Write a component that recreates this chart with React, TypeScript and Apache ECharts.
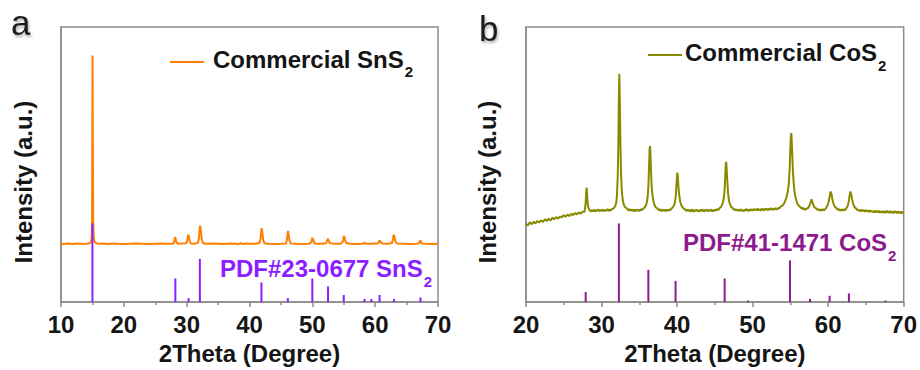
import { useEffect, useRef } from 'react';
import * as echarts from 'echarts';

// ---- Commercial SnS2 scan: [2θ (deg), intensity (a.u.)] ----
const SNS2_SCAN: [number, number][] = [
  [10.0, 212], [10.5, 211], [11.0, 213], [11.5, 212], [12.0, 211], [12.5, 213], [13.0, 212],
  [13.5, 211], [14.0, 212], [14.4, 213], [14.7, 216], [14.85, 225], [14.93, 262], [14.97, 486],
  [15.02, 896], [15.07, 600], [15.12, 300], [15.2, 236], [15.35, 220], [15.6, 214], [16.0, 212],
  [16.5, 213], [17.0, 212], [17.5, 211], [18.0, 212], [18.5, 213], [19.0, 212], [20.0, 211],
  [21.0, 212], [22.0, 213], [23.0, 212], [24.0, 211], [25.0, 212], [26.0, 213], [27.0, 212],
  [27.8, 212], [28.0, 218], [28.15, 236], [28.25, 230], [28.4, 216], [28.6, 212], [29.2, 213],
  [29.9, 214], [30.1, 224], [30.25, 245], [30.35, 240], [30.5, 220], [30.7, 213], [31.3, 212],
  [31.8, 216], [31.95, 232], [32.08, 270], [32.15, 278], [32.25, 262], [32.4, 228], [32.6, 215],
  [33.0, 212], [34.0, 213], [35.0, 212], [36.0, 211], [37.0, 213], [37.8, 212], [38.2, 210],
  [38.6, 214], [39.0, 211], [39.4, 213], [40.0, 212], [41.0, 212], [41.6, 215], [41.75, 230],
  [41.88, 262], [41.95, 268], [42.05, 250], [42.2, 224], [42.4, 214], [43.0, 212], [44.0, 211],
  [45.0, 212], [45.8, 213], [45.95, 225], [46.08, 252], [46.15, 258], [46.25, 240], [46.4, 220],
  [46.6, 213], [47.5, 212], [48.5, 211], [49.5, 212], [49.85, 218], [50.0, 234], [50.12, 228],
  [50.3, 215], [50.6, 212], [51.5, 212], [52.2, 214], [52.4, 226], [52.5, 230], [52.6, 224],
  [52.8, 214], [53.5, 212], [54.5, 212], [54.85, 219], [55.0, 238], [55.08, 240], [55.2, 226],
  [55.4, 215], [56.0, 212], [57.0, 211], [58.0, 212], [58.3, 216], [58.5, 212], [59.5, 212],
  [60.5, 214], [60.7, 224], [60.85, 220], [61.1, 213], [62.0, 212], [62.7, 215], [62.85, 232],
  [62.95, 245], [63.05, 240], [63.2, 222], [63.45, 213], [64.5, 212], [65.5, 211], [66.5, 212],
  [67.0, 214], [67.15, 224], [67.25, 222], [67.45, 213], [68.0, 212], [69.0, 211], [70.0, 212],
];

// ---- PDF#23-0677 SnS2 reference lines ----
const SNS2_REF_POS = [15.0, 28.2, 30.3, 32.1, 41.9, 46.1, 50.0, 52.5, 55.0, 58.3, 59.4, 60.7, 63.0, 67.2];
const SNS2_REF_REL = [100, 30, 5, 55, 25, 5, 30, 20, 9, 4, 4, 9, 4, 6];

// ---- Commercial CoS2 scan: [2θ (deg), intensity (a.u.)] ----
const COS2_SCAN: [number, number][] = [
  [20.0, 284], [20.25, 279], [20.5, 290], [20.75, 283], [21.0, 292], [21.25, 286], [21.5, 295],
  [21.75, 289], [22.0, 297], [22.25, 291], [22.5, 301], [22.75, 295], [23.0, 303], [23.25, 297],
  [23.5, 307], [23.75, 301], [24.0, 309], [24.25, 303], [24.5, 312], [24.75, 308], [25.0, 316],
  [25.25, 310], [25.5, 318], [25.75, 313], [26.0, 321], [26.25, 316], [26.5, 324], [26.75, 319],
  [27.0, 326], [27.25, 322], [27.5, 329], [27.7, 327],
  [27.8, 336], [27.9, 362], [27.96, 395], [28.02, 416], [28.08, 397], [28.15, 362], [28.25, 343],
  [28.4, 336], [28.55, 329], [28.7, 334], [28.85, 330], [29.0, 336], [29.15, 329], [29.3, 335],
  [29.45, 331], [29.6, 337], [29.75, 330], [29.9, 335], [30.05, 331], [30.2, 337], [30.35, 330],
  [30.5, 335], [30.65, 332], [30.8, 338], [30.95, 331], [31.1, 336], [31.25, 333], [31.4, 339],
  [31.6, 341],
  [31.8, 348], [31.95, 362], [32.05, 392], [32.15, 460], [32.22, 560], [32.28, 720], [32.35, 830],
  [32.42, 735], [32.5, 580], [32.58, 470], [32.68, 405], [32.8, 372], [32.95, 354], [33.15, 344],
  [33.4, 340], [33.55, 333], [33.7, 338], [33.85, 332], [34.0, 337], [34.15, 331], [34.3, 336],
  [34.45, 330], [34.6, 337], [34.75, 332], [34.9, 336], [35.05, 331], [35.2, 338], [35.35, 334],
  [35.5, 340], [35.65, 342], [35.85, 350],
  [36.0, 362], [36.12, 385], [36.22, 430], [36.3, 500], [36.36, 555], [36.42, 567], [36.48, 540],
  [36.56, 470], [36.65, 415], [36.78, 380], [36.95, 358], [37.15, 345],
  [37.4, 340], [37.55, 334], [37.7, 338], [37.85, 331], [38.0, 336], [38.15, 331], [38.3, 337],
  [38.45, 330], [38.6, 336], [38.75, 332], [38.9, 337], [39.05, 333], [39.2, 339], [39.4, 343],
  [39.6, 352],
  [39.75, 368], [39.85, 392], [39.93, 430], [40.0, 462], [40.04, 471], [40.1, 455], [40.18, 420],
  [40.28, 390], [40.42, 365], [40.6, 350], [40.85, 341],
  [41.1, 336], [41.225, 331], [41.35, 337], [41.475, 330], [41.6, 336], [41.725, 332], [41.85, 329],
  [41.975, 337], [42.1, 333], [42.225, 328], [42.35, 335], [42.475, 331], [42.6, 337], [42.725, 330],
  [42.85, 334], [42.975, 328], [43.1, 336], [43.225, 331], [43.35, 337], [43.475, 332], [43.6, 329],
  [43.725, 336], [43.85, 331], [43.975, 337], [44.1, 330], [44.225, 335], [44.35, 331], [44.475, 337],
  [44.6, 333], [44.725, 329], [44.85, 336], [44.975, 331], [45.1, 337], [45.225, 333], [45.35, 338],
  [45.475, 335], [45.6, 341], [45.85, 347], [46.05, 360],
  [46.2, 380], [46.3, 410], [46.38, 460], [46.44, 498], [46.5, 510], [46.56, 490], [46.64, 445],
  [46.74, 400], [46.86, 372], [47.0, 356], [47.2, 345],
  [47.45, 339], [47.575, 334], [47.7, 338], [47.825, 332], [47.95, 337], [48.075, 331], [48.2, 336],
  [48.325, 332], [48.45, 338], [48.575, 331], [48.7, 335], [48.825, 330], [48.95, 337], [49.075, 333],
  [49.2, 339], [49.325, 332], [49.45, 336], [49.575, 331], [49.7, 338], [49.825, 334], [49.95, 337],
  [50.075, 332], [50.2, 339], [50.325, 334], [50.45, 338], [50.575, 333], [50.7, 340], [50.825, 334],
  [50.95, 337], [51.075, 332], [51.2, 340], [51.325, 335], [51.45, 338], [51.575, 333], [51.7, 341],
  [51.825, 336], [51.95, 339], [52.075, 334], [52.2, 340], [52.325, 336], [52.45, 342], [52.575, 335],
  [52.7, 339], [52.825, 336], [52.95, 342], [53.075, 337], [53.2, 340], [53.325, 338], [53.45, 343],
  [53.575, 341], [53.7, 347], [53.95, 351], [54.2, 360], [54.45, 378],
  [54.65, 400], [54.8, 432], [54.92, 490], [55.0, 560], [55.06, 600], [55.12, 614], [55.18, 590],
  [55.26, 530], [55.36, 465], [55.48, 420], [55.62, 388], [55.8, 368], [56.0, 354],
  [56.25, 347], [56.4, 341], [56.55, 344], [56.7, 337], [56.85, 341], [57.0, 335], [57.15, 340],
  [57.3, 341], [57.45, 346], [57.6, 356],
  [57.72, 366], [57.8, 374], [57.9, 366], [58.02, 354], [58.2, 344],
  [58.45, 340], [58.6, 335], [58.75, 338], [58.9, 332], [59.05, 337], [59.2, 333], [59.35, 338],
  [59.5, 334], [59.7, 341], [59.9, 350], [60.05, 362],
  [60.18, 380], [60.28, 396], [60.35, 402], [60.44, 394], [60.55, 376], [60.7, 358], [60.9, 346],
  [61.15, 340], [61.3, 335], [61.45, 338], [61.6, 332], [61.75, 337], [61.9, 333], [62.05, 338],
  [62.2, 334], [62.4, 340], [62.6, 350],
  [62.75, 368], [62.85, 388], [62.95, 402], [63.04, 395], [63.15, 377], [63.3, 358], [63.5, 345],
  [63.75, 339], [63.875, 334], [64.0, 337], [64.125, 331], [64.25, 335], [64.375, 329], [64.5, 336],
  [64.625, 331], [64.75, 334], [64.875, 328], [65.0, 335], [65.125, 330], [65.25, 333], [65.375, 327],
  [65.5, 334], [65.625, 329], [65.75, 332], [65.875, 327], [66.0, 331], [66.125, 325], [66.25, 333],
  [66.375, 327], [66.5, 331], [66.625, 326], [66.75, 332], [66.875, 325], [67.0, 330], [67.125, 326],
  [67.25, 331], [67.375, 324], [67.5, 330], [67.625, 325], [67.75, 332], [67.875, 326], [68.0, 329],
  [68.125, 324], [68.25, 331], [68.375, 325], [68.5, 328], [68.625, 323], [68.75, 331], [68.875, 326],
  [69.0, 329], [69.125, 323], [69.25, 330], [69.375, 325], [69.5, 328], [69.625, 322], [69.75, 329],
  [69.875, 324], [70.0, 327],
];

// ---- PDF#41-1471 CoS2 reference lines ----
const COS2_REF_POS = [27.9, 32.3, 36.2, 39.8, 46.3, 49.4, 54.95, 57.6, 60.2, 62.75, 67.6];
const COS2_REF_REL = [13, 100, 41, 27, 30, 2, 53, 4, 8, 11, 2];

// ---- Axes ----
const X_RANGE_A = [10, 70];
const X_RANGE_B = [20, 70];
const X_STEP = 10;
const Y_MAX = 1000;
const REF_SCALE = 2.86; // relative intensity (I/I0 = 100) to plot units

const FONT = '"Liberation Sans", Arial, Helvetica, sans-serif';
const GREY = '#8c8c8c';
const TEXT = '#151515';
const ORANGE = '#ff8000';
const VIOLET = '#8c1eff';
const OLIVE = '#8a8a00';
const MAGENTA = '#8e1b8e';

const xAxisFor = (gridIndex: number, range: number[]) => ({
  type: 'value',
  gridIndex,
  min: range[0],
  max: range[1],
  interval: X_STEP,
  name: '2Theta (Degree)',
  nameLocation: 'middle',
  nameGap: 38,
  nameTextStyle: { fontSize: 24, fontWeight: 'bold', color: TEXT, fontFamily: FONT },
  axisLine: { show: true, onZero: false, lineStyle: { color: GREY, width: 1.5 } },
  axisTick: { show: true, inside: false, length: 5, lineStyle: { color: GREY, width: 1.5 } },
  minorTick: { show: true, splitNumber: 2, length: 3, lineStyle: { color: GREY, width: 1.5 } },
  axisLabel: { fontSize: 24, fontWeight: 'bold', color: TEXT, fontFamily: FONT, margin: 10 },
  splitLine: { show: false },
  minorSplitLine: { show: false },
});

const yAxisFor = (gridIndex: number) => ({
  type: 'value',
  gridIndex,
  min: 0,
  max: Y_MAX,
  axisLine: { show: true, lineStyle: { color: GREY, width: 1.5 } },
  axisTick: { show: false },
  axisLabel: { show: false },
  splitLine: { show: false },
});

const sticks = (pos: number[], rel: number[]) => pos.map((p, i) => [p, rel[i] * REF_SCALE]);

const stickSeries = (axisIndex: number, data: number[][], color: string) => ({
  type: 'custom',
  xAxisIndex: axisIndex,
  yAxisIndex: axisIndex,
  z: 3,
  data,
  renderItem: (_params: any, api: any) => {
    const base = api.coord([api.value(0), 0]);
    const top = api.coord([api.value(0), api.value(1)]);
    return {
      type: 'line',
      shape: { x1: base[0], y1: base[1], x2: top[0], y2: top[1] },
      style: { stroke: color, lineWidth: 2 },
    };
  },
});

const label = (x: number, y: number, main: string, sub: string, color: string) => ({
  type: 'text',
  x,
  y,
  style: {
    text: `{n|${main}}{s|${sub}}`,
    verticalAlign: 'middle',
    align: 'left',
    rich: {
      n: { fontSize: 24, fontWeight: 'bold', fontFamily: FONT, fill: color, lineHeight: 40, verticalAlign: 'middle' },
      s: { fontSize: 15, fontWeight: 'bold', fontFamily: FONT, fill: color, lineHeight: 15, verticalAlign: 'bottom', padding: [0, 0, 0, 1] },
    },
  },
});

const yTitle = (x: number, y: number) => ({
  type: 'text',
  x,
  y,
  rotation: Math.PI / 2,
  style: {
    text: 'Intensity (a.u.)',
    fontSize: 24,
    fontWeight: 'bold',
    fontFamily: FONT,
    fill: TEXT,
    align: 'center',
    verticalAlign: 'middle',
  },
});

const panelLetter = (x: number, y: number, t: string) => ({
  type: 'text',
  x,
  y,
  style: {
    text: t,
    fontSize: 35,
    fontFamily: FONT,
    fill: '#1e1e1e',
    align: 'left',
    verticalAlign: 'middle',
    textShadowColor: 'rgba(0,0,0,0.35)',
    textShadowBlur: 3,
    textShadowOffsetX: 1,
    textShadowOffsetY: 2,
  },
});

const option = {
  animation: false,
  backgroundColor: '#ffffff',
  grid: [
    { left: 61, top: 27, width: 377, height: 278, show: true, borderColor: GREY, borderWidth: 1.5 },
    { left: 526, top: 27, width: 378, height: 278, show: true, borderColor: GREY, borderWidth: 1.5 },
  ],
  xAxis: [xAxisFor(0, X_RANGE_A), xAxisFor(1, X_RANGE_B)],
  yAxis: [yAxisFor(0), yAxisFor(1)],
  series: [
    {
      type: 'line',
      xAxisIndex: 0,
      yAxisIndex: 0,
      data: SNS2_SCAN,
      symbol: 'none',
      z: 2,
      lineStyle: { color: ORANGE, width: 2 },
    },
    stickSeries(0, sticks(SNS2_REF_POS, SNS2_REF_REL), VIOLET),
    {
      type: 'line',
      xAxisIndex: 1,
      yAxisIndex: 1,
      data: COS2_SCAN,
      symbol: 'none',
      z: 2,
      lineStyle: { color: OLIVE, width: 2 },
    },
    stickSeries(1, sticks(COS2_REF_POS, COS2_REF_REL), MAGENTA),
  ],
  graphic: [
    panelLetter(11, 22, 'a'),
    panelLetter(479, 28, 'b'),
    yTitle(23, 182),
    yTitle(487, 182),
    { type: 'line', shape: { x1: 170, y1: 62, x2: 204, y2: 62 }, style: { stroke: ORANGE, lineWidth: 2 } },
    label(213, 59, 'Commercial SnS', '2', TEXT),
    { type: 'line', shape: { x1: 648, y1: 55, x2: 682, y2: 55 }, style: { stroke: OLIVE, lineWidth: 2 } },
    label(685, 52.5, 'Commercial CoS', '2', TEXT),
    label(220, 268.5, 'PDF#23-0677 SnS', '2', VIOLET),
    label(683, 242.5, 'PDF#41-1471 CoS', '2', MAGENTA),
  ],
};

export default function App() {
  const ref = useRef<HTMLDivElement>(null);
  useEffect(() => {
    const chart = echarts.init(ref.current!, null, { renderer: 'svg' });
    chart.setOption(option as any);
    return () => chart.dispose();
  }, []);
  return (
    <div
      ref={ref}
      style={{ position: 'fixed', left: 0, top: 0, width: 920, height: 370, background: '#fff' }}
    />
  );
}
